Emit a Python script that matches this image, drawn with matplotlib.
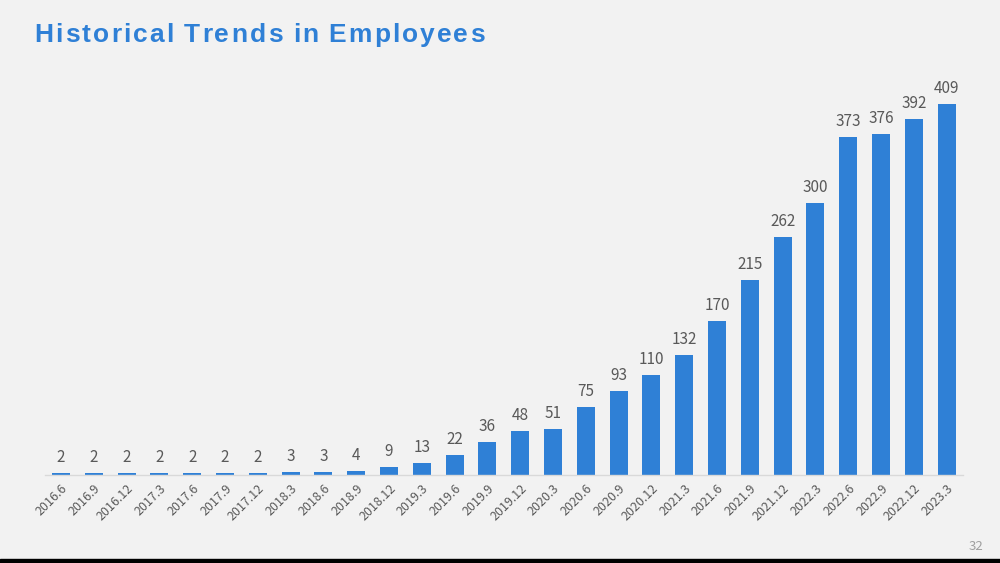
import matplotlib
matplotlib.use("Agg")
import matplotlib.pyplot as plt
from matplotlib.patches import Rectangle

# data
periods = ["2016.6", "2016.9", "2016.12", "2017.3", "2017.6", "2017.9", "2017.12",
           "2018.3", "2018.6", "2018.9", "2018.12", "2019.3", "2019.6", "2019.9",
           "2019.12", "2020.3", "2020.6", "2020.9", "2020.12", "2021.3", "2021.6",
           "2021.9", "2021.12", "2022.3", "2022.6", "2022.9", "2022.12", "2023.3"]
employees = [2, 2, 2, 2, 2, 2, 2, 3, 3, 4, 9, 13, 22, 36, 48, 51, 75, 93, 110,
             132, 170, 215, 262, 300, 373, 376, 392, 409]

title = "Historical Trends in Employees"
page_no = "32"

BG = "#f2f2f2"
BLUE = "#2f80d6"
GREY = "#595959"

plt.rcParams['font.family'] = ['Noto Sans CJK JP', 'DejaVu Sans']

fig = plt.figure(figsize=(10, 5.63), dpi=100, facecolor=BG)
ax = fig.add_axes([0.0446, 0.1563, 0.9184, 0.7249])
ax.set_facecolor(BG)

x = list(range(len(periods)))
bars = ax.bar(x, employees, width=0.55, color=BLUE, zorder=2)
ax.set_xlim(-0.5, len(periods) - 0.5)
ax.set_ylim(0, 450)

for xi, v in zip(x, employees):
    ax.annotate(str(v), (xi, v), xytext=(0, 8), textcoords="offset points",
                ha="center", va="baseline", fontsize=11, color=GREY)

ax.set_xticks(x)
ax.set_xticklabels(periods, rotation=45, ha="right", rotation_mode="anchor",
                   fontsize=9, color=GREY)
ax.tick_params(axis="x", length=0, pad=5)
ax.set_yticks([])
for s in ["top", "left", "right"]:
    ax.spines[s].set_visible(False)
ax.spines["bottom"].set_color("#d9d9d9")
ax.spines["bottom"].set_linewidth(1)

# title with wide letter spacing, drawn char by char
renderer = fig.canvas.get_renderer()
tfont = dict(fontsize=19, fontweight="bold", color=BLUE,
             family="Liberation Sans", va="baseline", ha="left")
chars = []
widths = []
for ch in title:
    t = fig.text(0, 563 - 42, ch, transform=None, **tfont)
    w = 6 if ch == " " else t.get_window_extent(renderer).width
    chars.append(t)
    widths.append(w)
spacing = (451 - sum(widths)) / (len(title) - 1)
x0 = 34
for t, w in zip(chars, widths):
    t.set_x(x0)
    x0 += w + spacing

fig.text(0.983, 13 / 563, page_no, fontsize=9.5, color="#a0a0a0",
         ha="right", va="baseline")

# dark strip at the bottom of the slide
fig.patches.append(Rectangle((0, 0), 1, 4 / 563, transform=fig.transFigure,
                             color="black", zorder=5))

fig.savefig("out.png", dpi=100, facecolor=BG)
